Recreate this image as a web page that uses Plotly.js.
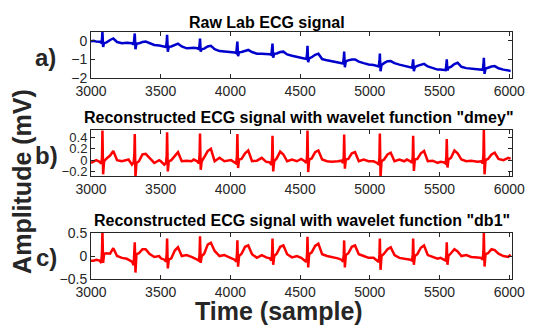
<!DOCTYPE html>
<html>
<head>
<meta charset="utf-8">
<script src="https://cdn.plot.ly/plotly-3.0.1.min.js"></script>
<style>html,body{margin:0;padding:0;background:#fff;}#chart{width:540px;height:329px;}</style>
</head>
<body>
<div id="chart"></div>
<script>
// Sample index (x), read beat by beat from the picture
const sampleIdx = [
  3000, 3018,
  3037, 3062, 3074, 3079, 3082, 3087, 3094, 3112, 3137, 3160, 3187, 3222, 3257,
  3269, 3294, 3306, 3311, 3314, 3319, 3326, 3344, 3369, 3392, 3419, 3454, 3489,
  3501, 3526, 3538, 3543, 3546, 3551, 3558, 3576, 3601, 3624, 3651, 3686, 3721,
  3737, 3762, 3774, 3779, 3782, 3787, 3794, 3812, 3837, 3860, 3887, 3922, 3957,
  4005, 4030, 4042, 4047, 4050, 4055, 4062, 4080, 4105, 4128, 4155, 4190, 4225,
  4257, 4282, 4294, 4299, 4302, 4307, 4314, 4332, 4357, 4380, 4407, 4442, 4477,
  4508, 4533, 4545, 4550, 4553, 4558, 4565, 4583, 4608, 4631, 4658, 4693, 4728,
  4771, 4796, 4808, 4813, 4816, 4821, 4828, 4846, 4871, 4894, 4921, 4956, 4991,
  5027, 5052, 5064, 5069, 5072, 5077, 5084, 5102, 5127, 5150, 5177, 5212, 5247,
  5266, 5291, 5303, 5308, 5311, 5316, 5323, 5341, 5366, 5389, 5416, 5451, 5486,
  5507, 5532, 5544, 5549, 5552, 5557, 5564, 5582, 5607, 5630, 5657, 5692, 5727,
  5773, 5798, 5810, 5815, 5818, 5823, 5830, 5848, 5873, 5896, 5923, 5958, 5993,
  6010
];
// a) Raw lab ECG (mV)
const rawECG = [
  -0.02, 0.0,
  -0.03, -0.04, -0.10, 0.10, 0.50, -0.33, -0.12, -0.08, 0.05, 0.13, -0.06, -0.13, -0.10,
  -0.12, -0.13, -0.20, 0.05, 0.40, -0.45, -0.16, -0.13, -0.06, -0.04, -0.12, -0.22, -0.25,
  -0.26, -0.28, -0.33, -0.05, 0.33, -0.58, -0.32, -0.30, -0.20, -0.15, -0.30, -0.40, -0.38,
  -0.37, -0.40, -0.44, -0.20, 0.13, -0.58, -0.45, -0.42, -0.30, -0.27, -0.45, -0.55, -0.57,
  -0.58, -0.62, -0.66, -0.35, -0.04, -0.82, -0.62, -0.60, -0.52, -0.49, -0.60, -0.69, -0.70,
  -0.70, -0.72, -0.76, -0.50, -0.15, -0.91, -0.70, -0.68, -0.60, -0.58, -0.73, -0.80, -0.87,
  -0.90, -0.95, -0.98, -0.70, -0.27, -1.15, -0.95, -0.88, -0.75, -0.69, -0.98, -1.05, -1.10,
  -1.15, -1.20, -1.22, -0.95, -0.58, -1.42, -1.10, -1.05, -1.00, -1.00, -1.12, -1.20, -1.27,
  -1.30, -1.36, -1.38, -1.10, -0.69, -1.64, -1.30, -1.20, -1.10, -1.09, -1.20, -1.28, -1.33,
  -1.38, -1.42, -1.45, -1.20, -1.00, -1.64, -1.42, -1.35, -1.28, -1.24, -1.38, -1.48, -1.55,
  -1.55, -1.56, -1.58, -1.30, -1.00, -1.60, -1.45, -1.40, -1.25, -1.18, -1.40, -1.47, -1.50,
  -1.52, -1.53, -1.56, -1.30, -0.91, -1.78, -1.50, -1.45, -1.38, -1.36, -1.48, -1.55, -1.58,
  -1.62
];
// b) Reconstructed with "dmey" (mV)
const dmeyECG = [
  -0.05, -0.03,
  0.00, -0.03, -0.06, 0.05, 0.52, -0.25, -0.02, 0.03, 0.08, 0.16, 0.00, -0.02, 0.00,
  0.01, -0.08, -0.04, 0.10, 0.46, -0.30, -0.05, -0.02, 0.10, 0.11, 0.04, -0.05, 0.00,
  -0.02, -0.08, -0.05, 0.08, 0.49, -0.20, -0.02, 0.00, 0.08, 0.14, -0.02, -0.01, -0.02,
  0.01, -0.02, -0.06, 0.10, 0.47, -0.17, -0.02, 0.05, 0.16, 0.20, -0.02, 0.04, -0.02,
  0.00, -0.05, -0.06, 0.08, 0.46, -0.14, 0.01, 0.02, 0.12, 0.17, -0.02, -0.01, 0.04,
  -0.03, -0.04, -0.08, 0.05, 0.43, -0.20, -0.02, 0.03, 0.15, 0.10, -0.02, 0.01, -0.02,
  0.02, -0.02, -0.05, 0.08, 0.52, -0.21, 0.01, 0.03, 0.14, 0.17, 0.01, -0.02, -0.03,
  -0.02, -0.01, -0.05, 0.06, 0.45, -0.15, 0.01, 0.02, 0.12, 0.14, -0.02, 0.01, -0.02,
  -0.02, -0.05, -0.08, 0.05, 0.47, -0.29, -0.02, 0.01, 0.10, 0.13, -0.02, 0.01, -0.02,
  0.01, -0.02, -0.05, 0.06, 0.43, -0.19, 0.01, 0.02, 0.12, 0.16, -0.02, -0.01, -0.05,
  -0.03, -0.04, -0.06, 0.06, 0.37, -0.13, 0.01, 0.04, 0.17, 0.12, 0.01, -0.02, -0.01,
  -0.03, -0.02, -0.06, 0.10, 0.55, -0.25, 0.00, 0.02, 0.10, 0.13, 0.02, 0.00, 0.04,
  0.02
];
// c) Reconstructed with "db1" (mV)
const db1ECG = [
  -0.10, -0.10,
  -0.08, -0.10, -0.15, 0.10, 0.53, -0.15, 0.05, 0.06, 0.05, 0.17, 0.00, -0.04, -0.06,
  -0.08, -0.12, -0.20, 0.00, 0.30, -0.36, 0.04, 0.06, 0.15, 0.15, 0.05, -0.02, 0.00,
  -0.05, -0.08, -0.12, 0.05, 0.38, -0.27, -0.08, -0.05, 0.12, 0.19, 0.00, 0.02, -0.02,
  -0.05, -0.08, -0.10, 0.05, 0.43, -0.15, 0.00, 0.05, 0.25, 0.29, 0.11, 0.00, 0.02,
  -0.04, -0.08, -0.12, 0.05, 0.34, -0.23, 0.00, 0.05, 0.20, 0.23, 0.04, -0.04, 0.02,
  -0.03, -0.05, -0.10, 0.05, 0.38, -0.19, 0.00, 0.05, 0.20, 0.23, 0.04, -0.03, 0.00,
  -0.04, -0.11, -0.13, 0.05, 0.42, -0.25, 0.04, 0.08, 0.22, 0.27, 0.04, 0.00, -0.02,
  -0.05, -0.08, -0.12, 0.03, 0.34, -0.25, 0.02, 0.06, 0.20, 0.23, 0.04, 0.00, -0.04,
  -0.04, -0.10, -0.13, 0.03, 0.38, -0.30, 0.00, 0.05, 0.15, 0.19, 0.02, -0.04, -0.06,
  -0.06, -0.08, -0.10, 0.03, 0.38, -0.19, 0.00, 0.04, 0.18, 0.23, 0.02, -0.02, -0.06,
  -0.04, -0.07, -0.10, 0.02, 0.30, -0.19, 0.00, 0.06, 0.15, 0.10, 0.00, 0.02, -0.02,
  -0.03, -0.04, -0.08, 0.10, 0.50, -0.23, 0.04, 0.06, 0.15, 0.13, 0.05, 0.00, -0.02,
  0.03
];
const xTickVals = [3000, 3500, 4000, 4500, 5000, 5500, 6000];
const yTicksA = [-2, -1, 0];
const yTicksB = [-0.2, 0, 0.2, 0.4];
const yTicksC = [-0.5, 0, 0.5];
const panelTitles = ['Raw Lab ECG signal',
  'Reconstructed ECG signal with wavelet function "dmey"',
  'Reconstructed ECG signal with wavelet function "db1"'];
const panelLetters = ['a)', 'b)', 'c)'];
const xLabel = 'Time (sample)';
const yLabel = 'Amplitude (mV)';

const FONT = 'Arial, "Liberation Sans", Helvetica, sans-serif';
const AX = '#262626';

function xa(anchor) {
  return {
    anchor: anchor, range: [3000, 6020], tickvals: xTickVals,
    ticks: 'inside', ticklen: 4, tickcolor: AX, mirror: 'ticks',
    showline: true, linecolor: AX, linewidth: 1, showgrid: false, zeroline: false,
    tickfont: {family: FONT, size: 14, color: AX}
  };
}
function ya(anchor, domain, range, tv, fs) {
  return {
    anchor: anchor, domain: domain, range: range, tickvals: tv,
    ticks: 'inside', ticklen: 4, tickcolor: AX, mirror: 'ticks',
    showline: true, linecolor: AX, linewidth: 1, showgrid: false, zeroline: false,
    tickfont: {family: FONT, size: fs || 14, color: AX}
  };
}

const traces = [
  {x: sampleIdx, y: rawECG, xaxis: 'x', yaxis: 'y', mode: 'lines',
   line: {color: 'rgb(0,0,205)', width: 2.5}},
  {x: sampleIdx, y: dmeyECG, xaxis: 'x2', yaxis: 'y2', mode: 'lines',
   line: {color: '#ff0000', width: 2.5}},
  {x: sampleIdx, y: db1ECG, xaxis: 'x3', yaxis: 'y3', mode: 'lines',
   line: {color: '#ff0000', width: 2.5}}
];

function ann(text, x, y, size, extra) {
  return Object.assign({text: text, x: x, y: y, xref: 'paper', yref: 'paper',
    showarrow: false, xanchor: 'center', yanchor: 'middle',
    font: {family: FONT, size: size, color: '#000'}}, extra || {});
}

const layout = {
  width: 540, height: 329,
  margin: {l: 91, r: 28, t: 32, b: 50},
  paper_bgcolor: '#fff', plot_bgcolor: '#fff',
  showlegend: false,
  xaxis: xa('y'), xaxis2: xa('y2'), xaxis3: xa('y3'),
  yaxis: ya('x', [0.814, 1.0], [-2, 0.48], yTicksA),
  yaxis2: ya('x2', [0.417, 0.603], [-0.28, 0.53], yTicksB, 13),
  yaxis3: ya('x3', [0, 0.186], [-0.5, 0.5], yTicksC),
  annotations: [
    ann('<b>' + panelTitles[0] + '</b>', 0.418, 1.04, 16),
    ann('<b>' + panelTitles[1] + '</b>', 0.494, 0.652, 16),
    ann('<b>' + panelTitles[2] + '</b>', 0.5, 0.235, 16),
    ann('<b>' + panelLetters[0] + '</b>', -0.107, 0.895, 24, {font: {family: FONT, size: 24, color: '#262626'}}),
    ann('<b>' + panelLetters[1] + '</b>', -0.105, 0.502, 24, {font: {family: FONT, size: 24, color: '#262626'}}),
    ann('<b>' + panelLetters[2] + '</b>', -0.105, 0.089, 24, {font: {family: FONT, size: 24, color: '#262626'}}),
    ann('<b>' + yLabel + '</b>', -0.164, 0.397, 25, {textangle: -90, font: {family: FONT, size: 25, color: '#262626'}}),
    ann('<b>' + xLabel + '</b>', 0.447, -0.13, 25, {font: {family: FONT, size: 25, color: '#262626'}})
  ]
};

Plotly.newPlot('chart', traces, layout, {staticPlot: true, displayModeBar: false});
</script>
</body>
</html>
